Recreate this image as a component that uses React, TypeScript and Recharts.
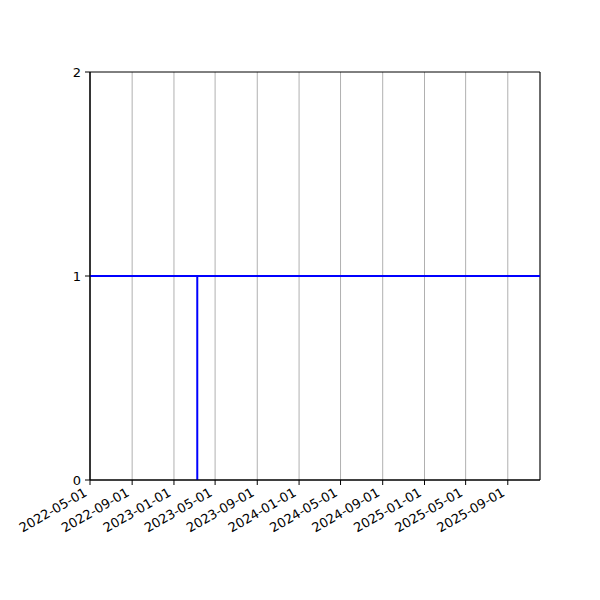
import React from 'react';
import { LineChart, Line, XAxis, YAxis, CartesianGrid, ReferenceArea } from 'recharts';

const pointDates = ['2022-05-01', '2023-03-10', '2023-03-10', '2023-03-10', '2025-12-04'];
const pointValues = [1, 1, 0, 1, 1];
const xTickLabels = [
  '2022-05-01', '2022-09-01', '2023-01-01', '2023-05-01', '2023-09-01', '2024-01-01',
  '2024-05-01', '2024-09-01', '2025-01-01', '2025-05-01', '2025-09-01',
];
const yTicks = [0, 1, 2];
const xStart = '2022-05-01';
const xEnd = '2025-12-04';

const toTs = (d: string) => Date.parse(d + 'T00:00:00Z');
const fmt = (t: number) => new Date(t).toISOString().slice(0, 10);

const data = pointDates.map((d, i) => ({ t: toTs(d), v: pointValues[i] }));
const xTicks = xTickLabels.map(toTs);
const FONT = 'DejaVu Sans, sans-serif';

const XTick = (props: any) => {
  const { x, y, payload } = props;
  const tx = x - 2;
  const ty = y + 8;
  return (
    <text
      x={tx}
      y={ty}
      textAnchor="end"
      fontSize={13}
      fontFamily={FONT}
      fill="#000"
      transform={`rotate(-30, ${tx}, ${ty})`}
    >
      {fmt(payload.value)}
    </text>
  );
};

export default function App() {
  return (
    <div style={{ position: 'absolute', left: 0, top: 0, width: 600, height: 600, background: '#fff' }}>
      <LineChart width={600} height={600} data={data} margin={{ top: 72, right: 60, bottom: 0, left: 50 }}>
        <CartesianGrid horizontal={false} stroke="#b0b0b0" strokeWidth={1} />
        <XAxis
          dataKey="t"
          type="number"
          domain={[toTs(xStart), toTs(xEnd)]}
          ticks={xTicks}
          allowDataOverflow
          height={120}
          tickSize={5}
          tickLine={{ stroke: '#000' }}
          axisLine={{ stroke: '#000' }}
          tick={<XTick />}
          interval={0}
        />
        <YAxis
          type="number"
          domain={[0, 2]}
          ticks={yTicks}
          width={40}
          tickSize={5}
          tickMargin={4}
          tickLine={{ stroke: '#000' }}
          axisLine={{ stroke: '#000' }}
          tick={{ fill: '#000', fontSize: 13, fontFamily: FONT }}
          interval={0}
        />
        <Line
          dataKey="v"
          type="linear"
          stroke="#0000ff"
          strokeWidth={2}
          dot={false}
          isAnimationActive={false}
        />
        <ReferenceArea
          x1={toTs(xStart)}
          x2={toTs(xEnd)}
          y1={0}
          y2={2}
          fill="none"
          stroke="#000"
          strokeWidth={1}
          ifOverflow="visible"
        />
      </LineChart>
    </div>
  );
}
